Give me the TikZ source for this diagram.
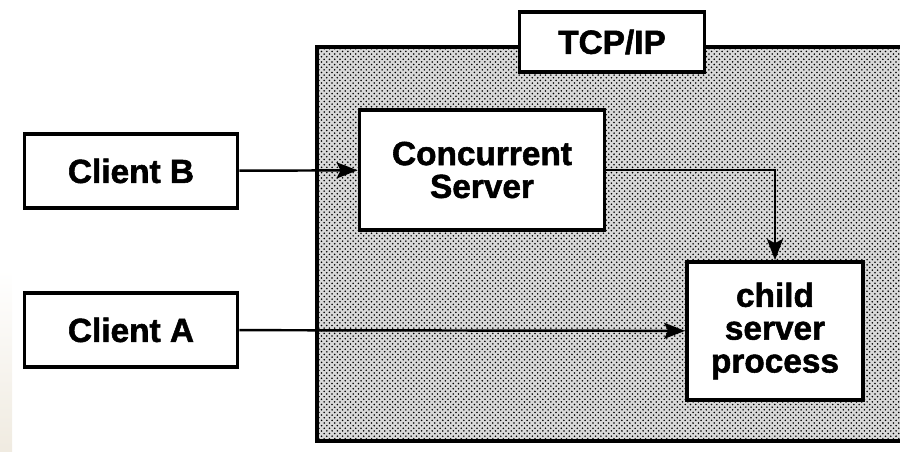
\documentclass[tikz,border=0pt]{standalone}
\usepackage{fontspec}
\setmainfont{Liberation Sans}
\newfontfamily\heavyfont{Liberation Sans Bold}[FakeBold=1.6]
\usetikzlibrary{arrows.meta,patterns}
\definecolor{beige}{rgb}{0.94,0.92,0.88}
\tikzset{
	box/.style={draw, line width=2.2pt, fill=white, align=center,
		font=\fontsize{19}{18.7}\heavyfont},
	link/.style={line width=1.4pt, -{Stealth[length=0.42cm, width=0.32cm, inset=0.08cm]}}
}
\begin{document}
\begin{tikzpicture}[x=0.02cm, y=-0.02cm]
	\useasboundingbox (0,0) rectangle (900,452);
	\shade[top color=white, bottom color=beige] (0,270) rectangle (12,452);

	\fill[gray!30] (317,47) rectangle (905,441);
	\fill[pattern=crosshatch dots, pattern color=black] (317,47) rectangle (905,441);
	\draw[line width=2.2pt] (317,47) rectangle (905,441);

	\draw (612,42) node[box, minimum width=3.7cm, minimum height=1.2cm] (tcp){TCP/IP};

	\draw (131,171) node[box, minimum width=4.26cm, minimum height=1.48cm] (cb){Client B};
	\draw (131,330) node[box, minimum width=4.26cm, minimum height=1.48cm] (ca){Client A};

	\draw (482,170) node[box, minimum width=4.9cm, minimum height=2.4cm] (cs){Concurrent\\Server};
	\draw (775,331) node[box, minimum width=3.52cm, minimum height=2.76cm] (child){child\\server\\process};

	\draw[link] (cb) -- (cs);
	\draw[link] (cs.east) -| (child.north);
	\draw[link] (ca) -- (child);
\end{tikzpicture}
\end{document}
